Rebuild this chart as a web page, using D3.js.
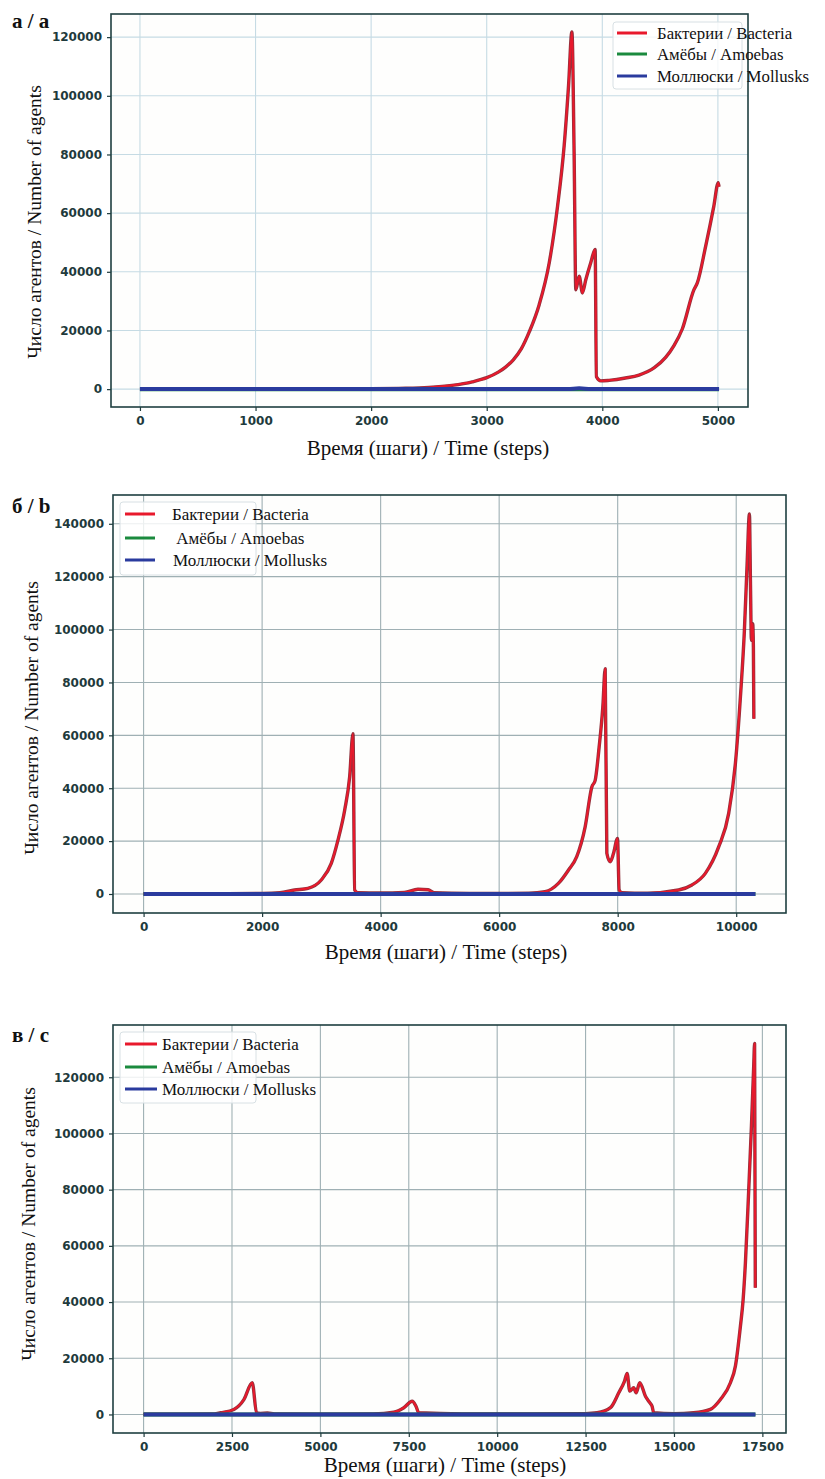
<!DOCTYPE html>
<html>
<head>
<meta charset="utf-8">
<script src="https://cdn.jsdelivr.net/npm/d3@7"></script>
<style>
  html, body { margin: 0; padding: 0; background: #ffffff; }
  svg { display: block; }
  .serif { font-family: "Liberation Serif", "Times New Roman", Times, "DejaVu Serif", serif; }
</style>
</head>
<body>
<svg id="chart" width="825" height="1479"></svg>
<script>
// ---------- DATA ----------
const seriesNames = ["Бактерии / Bacteria", "Амёбы / Amoebas", "Моллюски / Mollusks"];
const seriesNamesB = ["Бактерии / Bacteria", " Амёбы / Amoebas", "Моллюски / Mollusks"];
const xLabel = "Время (шаги) / Time (steps)";
const yLabel = "Число агентов / Number of agents";
const panelTitles = ["а / a", "б / b", "в / с"];

// Panel a
const stepsA = [0, 500, 1000, 1500, 2000, 2300, 2500, 2700, 2876, 3000, 3100, 3166, 3230, 3300, 3368, 3454, 3541, 3613, 3670, 3708, 3737, 3756, 3771, 3800, 3828, 3857, 3900, 3938, 3949, 3987, 4059, 4200, 4318, 4450, 4548, 4620, 4692, 4793, 4822, 4894, 4965, 5003, 5010];
const bacteriaA = [50, 60, 80, 100, 150, 300, 600, 1300, 2500, 3900, 5800, 7600, 10000, 13800, 19500, 28800, 43100, 62400, 83000, 103500, 121800, 80800, 33900, 38500, 32800, 37300, 43100, 47600, 4200, 2800, 3000, 3800, 4800, 7300, 10800, 14800, 20500, 33900, 36200, 48700, 62400, 70400, 69000];
const otherStepsA = [0, 1000, 2000, 3000, 3700, 3800, 3900, 4500, 5010];
const amoebasA = [0, 0, 0, 0, 0, 0, 0, 0, 0];
const mollusksA = [20, 20, 20, 20, 20, 300, 20, 20, 20];
const xTicksA = [0, 1000, 2000, 3000, 4000, 5000];
const yTicksA = [0, 20000, 40000, 60000, 80000, 100000, 120000];

// Panel b
const stepsB = [0, 1000, 2000, 2300, 2547, 2773, 2998, 3167, 3280, 3393, 3477, 3533, 3562, 3618, 4000, 4400, 4630, 4800, 4900, 5500, 6000, 6500, 6774, 6999, 7168, 7309, 7451, 7564, 7620, 7687, 7749, 7789, 7817, 7873, 7930, 7997, 8025, 8070, 8500, 9028, 9253, 9479, 9704, 9873, 9986, 10071, 10138, 10184, 10223, 10240, 10257, 10278, 10290, 10298];
const bacteriaB = [50, 100, 200, 500, 1500, 2150, 5300, 11600, 20400, 31700, 44300, 60600, 1500, 500, 400, 600, 1800, 1600, 500, 200, 200, 300, 870, 4000, 9000, 14100, 25400, 40500, 43000, 55600, 70700, 85200, 15400, 12200, 15400, 21000, 1500, 500, 300, 1500, 3400, 7800, 17800, 30500, 49300, 74500, 99600, 124800, 143700, 118500, 95900, 102200, 93300, 66300];
const otherStepsB = [0, 2000, 4000, 6000, 8000, 10000, 10324];
const amoebasB = [0, 0, 0, 0, 0, 0, 0];
const mollusksB = [20, 20, 20, 20, 20, 20, 20];
const xTicksB = [0, 2000, 4000, 6000, 8000, 10000];
const yTicksB = [0, 20000, 40000, 60000, 80000, 100000, 120000, 140000];

// Panel c
const stepsC = [0, 1000, 2000, 2177, 2553, 2836, 3073, 3195, 3300, 3500, 3700, 5000, 6500, 7077, 7360, 7597, 7700, 7784, 9000, 11000, 12500, 12827, 13203, 13438, 13599, 13675, 13749, 13862, 13929, 14032, 14193, 14315, 14381, 14428, 15000, 15558, 16030, 16313, 16596, 16737, 16879, 16955, 17020, 17114, 17190, 17255, 17280, 17300];
const bacteriaC = [50, 80, 150, 600, 1800, 5300, 11300, 600, 400, 500, 200, 100, 200, 800, 2400, 4700, 3000, 600, 200, 200, 300, 600, 2400, 7700, 11800, 14600, 8300, 9500, 7700, 11300, 6500, 4200, 2900, 600, 300, 600, 1800, 5300, 11300, 17200, 31400, 40800, 53900, 79900, 102400, 124000, 132000, 45100];
const otherStepsC = [0, 2500, 5000, 7500, 10000, 12500, 15000, 17303];
const amoebasC = [0, 0, 0, 0, 0, 0, 0, 0];
const mollusksC = [20, 20, 20, 20, 20, 20, 20, 20];
const xTicksC = [0, 2500, 5000, 7500, 10000, 12500, 15000, 17500];
const yTicksC = [0, 20000, 40000, 60000, 80000, 100000, 120000];

// ---------- STYLE / LAYOUT ----------
const colors = { bacteria: "#e8192c", bacteriaEdge: "#7a0f1c", amoebas: "#1b8a3e", mollusks: "#2a3b9e" };
const tickColor = "#1e3a3c";
const frameColor = "#1f3f40";

const panels = [
  {
    title: panelTitles[0], titleX: 12, titleY: 28,
    box: { left: 111, right: 748, top: 14, bottom: 407 },
    steps: stepsA, bacteria: bacteriaA, otherSteps: otherStepsA, amoebas: amoebasA, mollusks: mollusksA,
    xTicks: xTicksA, yTicks: yTicksA, grid: "#c6dbe4",
    xLabelX: 428, xLabelY: 455, yLabelX: 41, yLabelY: 222,
    legend: { box: [613, 22, 129, 67], lineX: [617, 647], textX: [657, 657, 657], ys: [33, 54, 76], names: seriesNames, size: 16.8 }
  },
  {
    title: panelTitles[1], titleX: 12, titleY: 513,
    box: { left: 113, right: 786, top: 495, bottom: 913 },
    steps: stepsB, bacteria: bacteriaB, otherSteps: otherStepsB, amoebas: amoebasB, mollusks: mollusksB,
    xTicks: xTicksB, yTicks: yTicksB, grid: "#9fb0b4",
    xLabelX: 446, xLabelY: 959, yLabelX: 38, yLabelY: 718,
    legend: { box: [120, 502, 136, 73], lineX: [125, 155], textX: [172, 172, 173], ys: [514, 538, 560], names: seriesNamesB, size: 17 }
  },
  {
    title: panelTitles[2], titleX: 12, titleY: 1042,
    box: { left: 113, right: 786, top: 1025, bottom: 1433 },
    steps: stepsC, bacteria: bacteriaC, otherSteps: otherStepsC, amoebas: amoebasC, mollusks: mollusksC,
    xTicks: xTicksC, yTicks: yTicksC, grid: "#9fb0b4",
    xLabelX: 445, xLabelY: 1472, yLabelX: 35, yLabelY: 1224,
    legend: { box: [120, 1032, 136, 71], lineX: [125, 157], textX: [162, 162, 162], ys: [1044, 1067, 1089], names: seriesNames, size: 17 }
  }
];

const svg = d3.select("#chart");

function padDomain(min, max) {
  const m = (max - min) * 0.05;
  return [min - m, max + m];
}

panels.forEach(p => {
  const b = p.box;
  const allX = p.steps.concat(p.otherSteps);
  const allY = p.bacteria.concat(p.amoebas, p.mollusks);
  const x = d3.scaleLinear().domain(padDomain(d3.min(allX), d3.max(allX))).range([b.left, b.right]);
  const y = d3.scaleLinear().domain(padDomain(0, d3.max(allY))).range([b.bottom, b.top]);

  const g = svg.append("g");

  g.append("rect").attr("x", b.left).attr("y", b.top)
    .attr("width", b.right - b.left).attr("height", b.bottom - b.top)
    .attr("fill", "#fefefd");

  // grid
  g.append("g").selectAll("line").data(p.xTicks).join("line")
    .attr("x1", d => x(d)).attr("x2", d => x(d)).attr("y1", b.top).attr("y2", b.bottom)
    .attr("stroke", p.grid).attr("stroke-width", 1.1);
  g.append("g").selectAll("line").data(p.yTicks).join("line")
    .attr("y1", d => y(d)).attr("y2", d => y(d)).attr("x1", b.left).attr("x2", b.right)
    .attr("stroke", p.grid).attr("stroke-width", 1.1);

  // axes
  const xAxis = d3.axisBottom(x).tickValues(p.xTicks).tickFormat(d3.format("d")).tickSize(4).tickPadding(5);
  const yAxis = d3.axisLeft(y).tickValues(p.yTicks).tickFormat(d3.format("d")).tickSize(4).tickPadding(5);
  const gx = g.append("g").attr("transform", `translate(0,${b.bottom})`).call(xAxis);
  const gy = g.append("g").attr("transform", `translate(${b.left},0)`).call(yAxis);
  [gx, gy].forEach(ax => {
    ax.select(".domain").remove();
    ax.selectAll(".tick line").attr("stroke", tickColor).attr("stroke-width", 1.2);
    ax.selectAll(".tick text").attr("fill", tickColor)
      .style("font-family", "'DejaVu Sans', sans-serif").style("font-weight", "bold").style("font-size", "12px");
  });

  // lines
  const line = (xs, ys) => d3.line().curve(d3.curveMonotoneX).x((d, i) => x(xs[i])).y((d, i) => y(ys[i]))(ys);
  g.append("path").attr("d", line(p.steps, p.bacteria)).attr("fill", "none")
    .attr("stroke", colors.bacteriaEdge).attr("stroke-width", 3.4).attr("stroke-linejoin", "round").attr("opacity", 0.85);
  g.append("path").attr("d", line(p.steps, p.bacteria)).attr("fill", "none")
    .attr("stroke", colors.bacteria).attr("stroke-width", 2).attr("stroke-linejoin", "round");
  g.append("path").attr("d", line(p.otherSteps, p.amoebas)).attr("fill", "none")
    .attr("stroke", colors.amoebas).attr("stroke-width", 4);
  g.append("path").attr("d", line(p.otherSteps, p.mollusks)).attr("fill", "none")
    .attr("stroke", colors.mollusks).attr("stroke-width", 4);

  // frame
  g.append("rect").attr("x", b.left).attr("y", b.top)
    .attr("width", b.right - b.left).attr("height", b.bottom - b.top)
    .attr("fill", "none").attr("stroke", frameColor).attr("stroke-width", 1.6);

  // legend
  const L = p.legend;
  g.append("rect").attr("x", L.box[0]).attr("y", L.box[1]).attr("width", L.box[2]).attr("height", L.box[3])
    .attr("rx", 3).attr("fill", "#ffffff").attr("fill-opacity", 0.8).attr("stroke", "#d8e0e4").attr("stroke-width", 1);
  const legColors = [colors.bacteria, colors.amoebas, colors.mollusks];
  L.ys.forEach((ly, i) => {
    g.append("line").attr("x1", L.lineX[0]).attr("x2", L.lineX[1]).attr("y1", ly).attr("y2", ly)
      .attr("stroke", legColors[i]).attr("stroke-width", 3);
    g.append("text").attr("class", "serif").attr("x", L.textX[i]).attr("y", ly + 6).text(L.names[i])
      .attr("xml:space", "preserve").style("white-space", "pre")
      .style("font-size", L.size + "px").attr("fill", "#111");
  });

  // axis labels
  g.append("text").attr("class", "serif").attr("x", p.xLabelX).attr("y", p.xLabelY).attr("text-anchor", "middle").text(xLabel)
    .style("font-size", "21px").attr("fill", "#111");
  g.append("text").attr("class", "serif").attr("transform", `translate(${p.yLabelX},${p.yLabelY}) rotate(-90)`).attr("text-anchor", "middle").text(yLabel)
    .style("font-size", "19.5px").attr("fill", "#111");

  // panel title
  g.append("text").attr("class", "serif").attr("x", p.titleX).attr("y", p.titleY).text(p.title)
    .style("font-size", "21px").style("font-weight", "bold").attr("fill", "#111");
});
</script>
</body>
</html>
